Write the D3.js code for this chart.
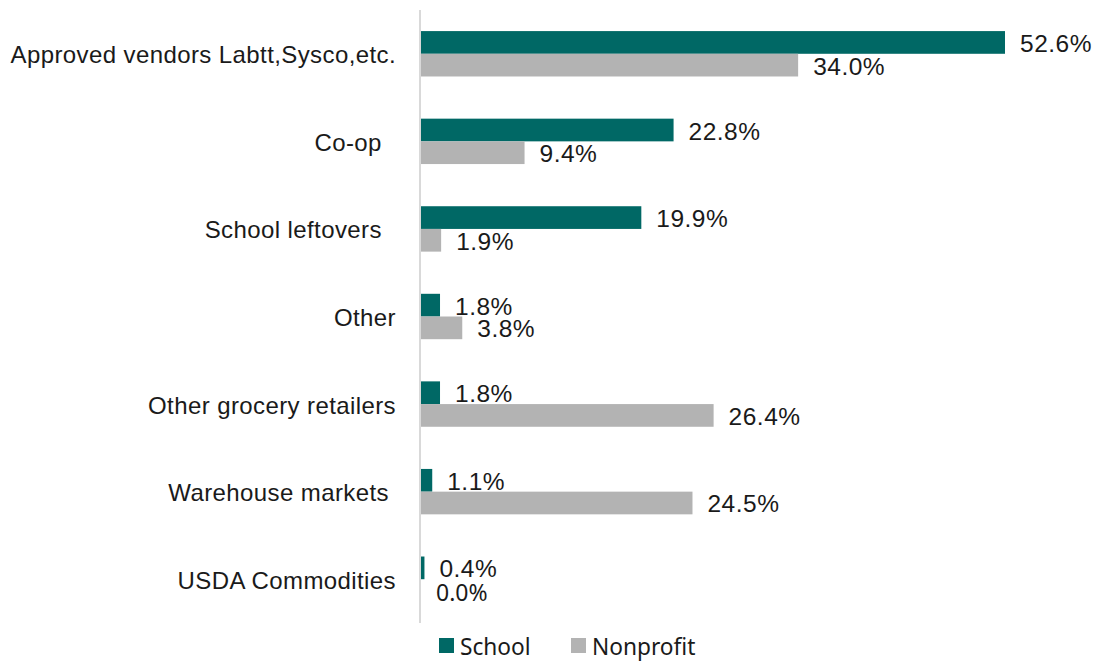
<!DOCTYPE html>
<html>
<head>
<meta charset="utf-8">
<script src="https://cdn.jsdelivr.net/npm/d3@7"></script>
<style>
  html, body { margin: 0; padding: 0; background: #fff; }
  svg text { white-space: pre; }
</style>
</head>
<body>
<svg id="chart" width="1100" height="661"></svg>
<script>
// Food sourcing channels, share of respondents by organisation type
const categories = [
  "Approved vendors Labtt,Sysco,etc.",
  "Co-op  ",
  "School leftovers  ",
  "Other",
  "Other grocery retailers",
  "Warehouse markets ",
  "USDA Commodities"
];
const schoolValues    = [52.6, 22.8, 19.9, 1.8, 1.8, 1.1, 0.4];
const nonprofitValues = [34.0, 9.4, 1.9, 3.8, 26.4, 24.5, 0.0];
const seriesNames = ["School", "Nonprofit"];
const seriesColors = ["#006865", "#b3b3b3"];

const svg = d3.select("#chart");
const axisX = 420;
const labelFont = "'Liberation Sans', Arial, sans-serif";
const legendFont = "'Noto Sans', 'Open Sans', sans-serif";

const x = d3.scaleLinear().domain([0, 52.6]).range([axisX, 1005]);
const y = d3.scaleBand().domain(categories).range([10, 623]);
const barH = 22.7;

const rows = categories.map((c, i) => ({
  cat: c,
  vals: [schoolValues[i], nonprofitValues[i]]
}));

// vertical category axis line
svg.append("line")
  .attr("x1", axisX).attr("x2", axisX)
  .attr("y1", 10).attr("y2", 623)
  .attr("stroke", "#d9d9d9").attr("stroke-width", 2);

rows.forEach(r => {
  const cy = y(r.cat) + y.bandwidth() / 2;
  r.vals.forEach((v, k) => {
    const top = cy - barH + k * barH;
    svg.append("rect")
      .attr("x", x(0) + 1)
      .attr("y", top)
      .attr("width", Math.max(0, x(v) - x(0) - 1))
      .attr("height", barH)
      .attr("fill", seriesColors[k]);
    const zero = v === 0;
    svg.append("text")
      .attr("x", x(v) + (zero ? 16 : 15))
      .attr("y", top + barH / 2 + 1)
      .attr("dominant-baseline", "central")
      .attr("font-family", zero ? legendFont : labelFont)
      .attr("font-size", zero ? 23 : 24.5)
      .attr("letter-spacing", zero ? 0 : 0.5)
      .attr("fill", "#1a1a1a")
      .text(v.toFixed(1) + "%");
  });
  svg.append("text")
    .attr("x", 396)
    .attr("y", cy + 1)
    .attr("text-anchor", "end")
    .attr("dominant-baseline", "central")
    .attr("font-family", labelFont)
    .attr("font-size", 24)
    .attr("letter-spacing", 0.4)
    .attr("fill", "#1a1a1a")
    .text(r.cat);
});

// legend
const legendX = [439, 571];
seriesNames.forEach((name, k) => {
  svg.append("rect")
    .attr("x", legendX[k]).attr("y", 638)
    .attr("width", 15).attr("height", 15)
    .attr("fill", seriesColors[k]);
  svg.append("text")
    .attr("x", legendX[k] + 21)
    .attr("y", 646)
    .attr("dominant-baseline", "central")
    .attr("font-family", legendFont)
    .attr("font-size", 22.7)
    .attr("fill", "#1a1a1a")
    .text(name);
});
</script>
</body>
</html>
